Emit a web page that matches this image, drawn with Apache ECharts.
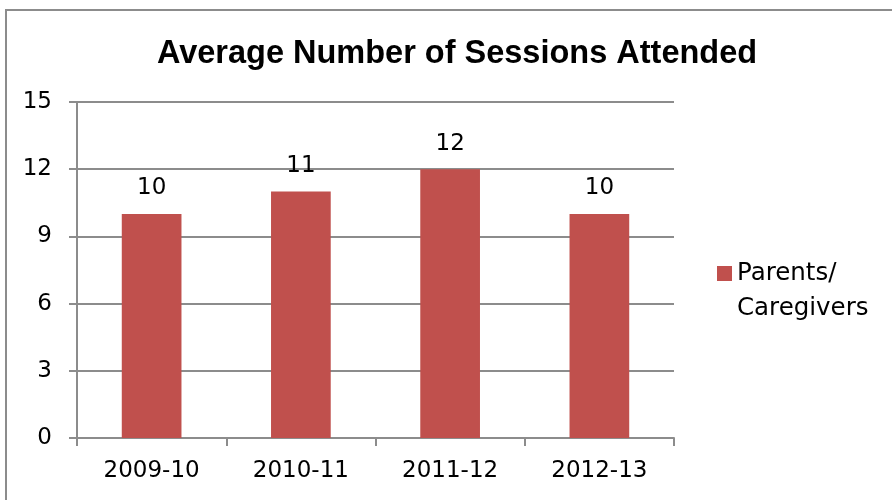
<!DOCTYPE html>
<html>
<head>
<meta charset="utf-8">
<script src="https://cdn.jsdelivr.net/npm/echarts@6/dist/echarts.min.js"></script>
<style>
  html, body { margin: 0; padding: 0; background: #fff; }
  #chart { width: 892px; height: 500px; }
</style>
</head>
<body>
<div id="chart"></div>
<script>
const titleText = 'Average Number of Sessions Attended';
const seasons = ['2009-10', '2010-11', '2011-12', '2012-13'];
const seriesName = 'Parents/ Caregivers';
const sessions = [10, 11, 12, 10];
const yMin = 0, yMax = 15, yStep = 3;

const FONT = '"DejaVu Sans", sans-serif';
const TITLE_FONT = '"Liberation Sans", Arial, sans-serif';
const GRID_GRAY = '#8c8c8c';
const LINE_H = 35;

const chart = echarts.init(document.getElementById('chart'));
chart.setOption({
  animation: false,
  backgroundColor: '#fff',
  textStyle: { fontFamily: FONT },
  graphic: [{
    type: 'rect',
    shape: { x: 6, y: 10, width: 900, height: 500 },
    style: { fill: 'none', stroke: GRID_GRAY, lineWidth: 2 },
    silent: true
  }],
  title: {
    text: titleText,
    left: 452, top: 33, textAlign: 'center',
    textStyle: { fontFamily: TITLE_FONT, fontWeight: 'bold', fontSize: 32.5, color: '#000' }
  },
  legend: {
    left: 717, top: 221, padding: 0,
    orient: 'vertical',
    itemWidth: 15, itemHeight: 15,
    icon: 'rect',
    // first line left blank so the swatch lines up with "Parents/"
    formatter: function (name) {
      const parts = name.split(' ');
      return '{s| }\n{t|' + parts[0] + '}\n{t|' + parts[1] + '}';
    },
    textStyle: {
      fontFamily: FONT, fontSize: 24.5, color: '#000',
      rich: {
        s: { fontSize: 24.5, lineHeight: LINE_H, height: LINE_H },
        t: { fontFamily: FONT, fontSize: 24.5, color: '#000', lineHeight: LINE_H, height: LINE_H }
      }
    },
    data: [seriesName]
  },
  grid: { left: 77, right: 892 - 674, top: 102, bottom: 500 - 438, containLabel: false },
  xAxis: {
    type: 'category',
    data: seasons,
    boundaryGap: true,
    axisLine: { lineStyle: { color: GRID_GRAY, width: 2 } },
    axisTick: { show: true, length: 8, alignWithLabel: false, lineStyle: { color: GRID_GRAY, width: 2 } },
    axisLabel: { color: '#000', fontSize: 23, fontFamily: FONT, margin: 22 }
  },
  yAxis: {
    type: 'value',
    min: yMin, max: yMax, interval: yStep,
    axisLine: { show: true, lineStyle: { color: GRID_GRAY, width: 2 } },
    axisTick: { show: true, length: 8, lineStyle: { color: GRID_GRAY, width: 2 } },
    splitLine: { show: true, lineStyle: { color: GRID_GRAY, width: 2 } },
    axisLabel: { color: '#000', fontSize: 23, fontFamily: FONT, margin: 25 }
  },
  series: [{
    name: seriesName,
    type: 'bar',
    data: sessions,
    barWidth: '40%',
    itemStyle: { color: '#C0504D' },
    label: { show: true, position: 'top', distance: 14, color: '#000', fontSize: 23, fontFamily: FONT }
  }]
});
</script>
</body>
</html>
